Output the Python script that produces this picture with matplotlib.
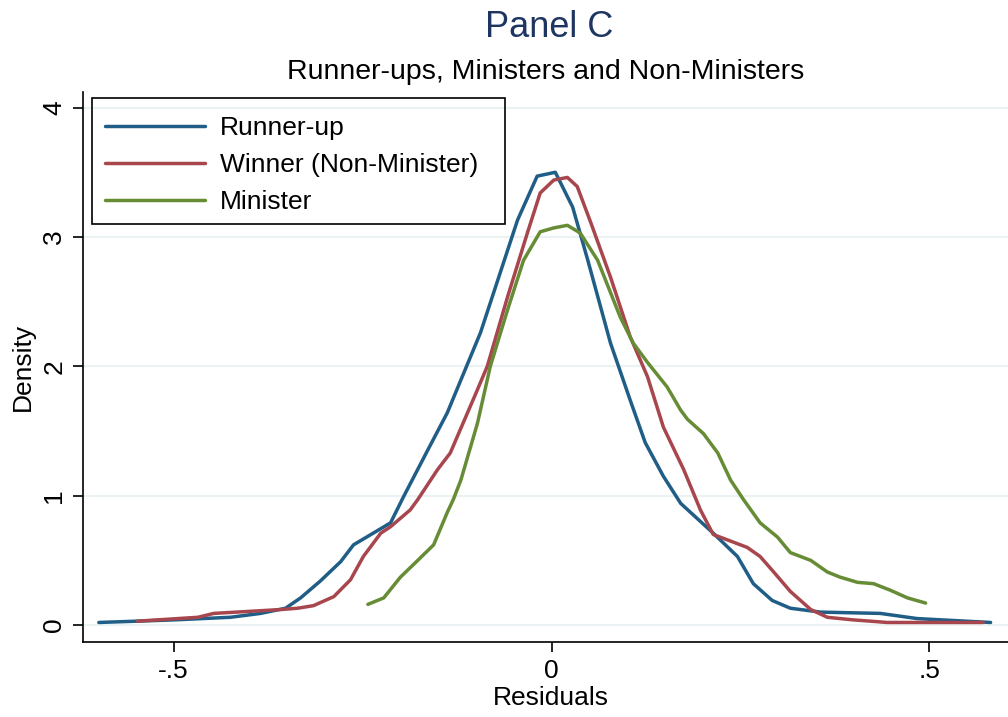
import matplotlib
matplotlib.use('Agg')
import matplotlib.pyplot as plt
from matplotlib.patches import Rectangle

# values (kernel density estimates)
RUNNER_X = [-0.599, -0.499, -0.425, -0.385, -0.352, -0.332, -0.306, -0.279, -0.262,
            -0.213, -0.196, -0.164, -0.138, -0.094, -0.045, -0.019, 0.005, 0.028,
            0.048, 0.078, 0.104, 0.124, 0.148, 0.171, 0.214, 0.246, 0.267, 0.292,
            0.316, 0.356, 0.435, 0.484, 0.581]
RUNNER_Y = [0.02, 0.04, 0.06, 0.09, 0.13, 0.21, 0.34, 0.49, 0.62,
            0.79, 0.99, 1.35, 1.64, 2.26, 3.13, 3.47, 3.50, 3.23,
            2.82, 2.18, 1.74, 1.41, 1.15, 0.94, 0.71, 0.53, 0.32, 0.19,
            0.13, 0.10, 0.09, 0.05, 0.02]

WINNER_X = [-0.548, -0.468, -0.447, -0.358, -0.336, -0.315, -0.288, -0.266, -0.249,
            -0.226, -0.213, -0.187, -0.177, -0.151, -0.134, -0.098, -0.085, -0.058,
            -0.032, -0.015, 0.003, 0.021, 0.034, 0.052, 0.078, 0.104, 0.127, 0.148,
            0.175, 0.197, 0.214, 0.241, 0.259, 0.276, 0.294, 0.316, 0.343, 0.365,
            0.399, 0.422, 0.444, 0.571]
WINNER_Y = [0.03, 0.06, 0.09, 0.12, 0.13, 0.15, 0.22, 0.35, 0.53,
            0.71, 0.76, 0.89, 0.97, 1.20, 1.33, 1.82, 2.00, 2.54,
            3.03, 3.34, 3.44, 3.46, 3.39, 3.11, 2.69, 2.23, 1.92, 1.53,
            1.20, 0.89, 0.70, 0.64, 0.60, 0.53, 0.41, 0.26, 0.12, 0.06,
            0.04, 0.03, 0.02, 0.02]

MINISTER_X = [-0.243, -0.222, -0.200, -0.177, -0.156, -0.138, -0.130, -0.120, -0.098,
              -0.081, -0.058, -0.037, -0.015, 0.003, 0.021, 0.038, 0.061, 0.091,
              0.108, 0.127, 0.153, 0.171, 0.180, 0.201, 0.220, 0.237, 0.254, 0.276,
              0.299, 0.316, 0.343, 0.365, 0.382, 0.405, 0.426, 0.448, 0.471, 0.495]
MINISTER_Y = [0.16, 0.21, 0.37, 0.50, 0.62, 0.87, 0.97, 1.12, 1.56,
              2.00, 2.44, 2.82, 3.04, 3.07, 3.09, 3.03, 2.82, 2.38,
              2.18, 2.03, 1.84, 1.66, 1.59, 1.48, 1.33, 1.12, 0.97, 0.79,
              0.68, 0.56, 0.50, 0.41, 0.37, 0.33, 0.32, 0.27, 0.21, 0.17]

LABELS = ['Runner-up', 'Winner (Non-Minister)', 'Minister']
COLORS = ['#205e87', '#a8464e', '#678c36']
XTICKS = [-0.5, 0, 0.5]
XTICKLABELS = ['-.5', '0', '.5']
YTICKS = [0, 1, 2, 3, 4]

plt.rcParams['font.family'] = ['Liberation Sans', 'DejaVu Sans']

fig = plt.figure(figsize=(10.08, 7.17), dpi=100)
ax = fig.add_axes([0.0823, 0.1046, 0.9177, 0.767])

series = [(RUNNER_X, RUNNER_Y), (WINNER_X, WINNER_Y), (MINISTER_X, MINISTER_Y)]
for (x, y), lab, col in zip(series, LABELS, COLORS):
    ax.plot(x, y, color=col, lw=2.5, label=lab, solid_capstyle='round',
            solid_joinstyle='round')

ax.set_xlim(-0.620, 0.604)
ax.set_ylim(-0.131, 4.12)
ax.set_xticks(XTICKS)
ax.set_xticklabels(XTICKLABELS)
ax.set_yticks(YTICKS)
ax.set_yticklabels([str(v) for v in YTICKS], rotation=90, va='center')
ax.tick_params(labelsize=19, length=7, width=1.2, direction='out', pad=5)
ax.grid(axis='y', color='#eaf2f3', lw=1.5)
ax.set_axisbelow(True)
for s in ['top', 'right']:
    ax.spines[s].set_visible(False)
for s in ['left', 'bottom']:
    ax.spines[s].set_linewidth(1.2)

ax.set_xlabel('Residuals', fontsize=19)
ax.set_ylabel('Density', fontsize=19)
ax.xaxis.set_label_coords(0.506, -0.102)
ax.yaxis.set_label_coords(-0.065, 0.5)
ax.xaxis.label.set_va('center')
ax.yaxis.label.set_va('center')

# legend entries without frame, box drawn separately (Stata-like right padding)
leg = ax.legend(loc='upper left', bbox_to_anchor=(0.0097, 0.980), fontsize=19,
                frameon=False, handlelength=3.8, handletextpad=0.55,
                borderpad=0.5, labelspacing=0.49, borderaxespad=0)
ax.add_patch(Rectangle((0.0097, 0.760), 0.4465, 0.229, transform=ax.transAxes,
                       fill=False, edgecolor='black', lw=1.2, zorder=5))

fig.text(0.545, 0.962, 'Panel C', ha='center', va='center', fontsize=26, color='#1e3461')
fig.text(0.541, 0.900, 'Runner-ups, Ministers and Non-Ministers', ha='center', va='center',
         fontsize=20.5)

fig.savefig('out.png', dpi=100)
